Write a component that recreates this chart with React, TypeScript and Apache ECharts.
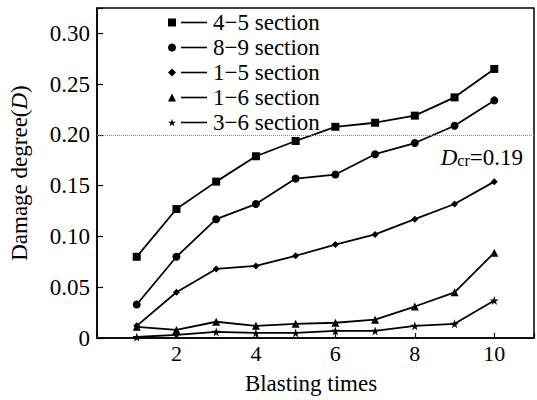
import React, { useEffect, useRef } from 'react';
import * as echarts from 'echarts';

const blastingTimes = [1, 2, 3, 4, 5, 6, 7, 8, 9, 10];
const sectionNames = ['4−5 section', '8−9 section', '1−5 section', '1−6 section', '3−6 section'];
const s45 = [0.080, 0.127, 0.154, 0.179, 0.194, 0.208, 0.212, 0.219, 0.237, 0.265];
const s89 = [0.033, 0.080, 0.117, 0.132, 0.157, 0.161, 0.181, 0.192, 0.209, 0.234];
const s15 = [0.012, 0.045, 0.068, 0.071, 0.081, 0.092, 0.102, 0.117, 0.132, 0.154];
const s16 = [0.011, 0.008, 0.016, 0.012, 0.014, 0.015, 0.018, 0.031, 0.045, 0.084];
const s36 = [0.001, 0.003, 0.006, 0.005, 0.005, 0.007, 0.007, 0.012, 0.014, 0.037];
const criticalLine = 0.195;
const criticalLabel = '0.19';

const STAR = 'path://M50,0 L61,35 L98,35 L68,57 L79,91 L50,70 L21,91 L32,57 L2,35 L39,35 Z';
const symbols = ['rect', 'circle', 'diamond', 'triangle', STAR];
const symbolSizes = [8, 8, 7, 8, 9];
const legendIcons = ['rect', 'circle', 'diamond', 'triangle', STAR];
const seriesValues = [s45, s89, s15, s16, s36];

const FONT = 'Liberation Serif';

export default function App() {
  const ref = useRef<HTMLDivElement>(null);
  useEffect(() => {
    if (!ref.current) return;
    const chart = echarts.init(ref.current, null, { renderer: 'svg' });
    const series: any[] = seriesValues.map((vals, i) => ({
      name: sectionNames[i],
      type: 'line',
      data: blastingTimes.map((x, j) => [x, vals[j]]),
      symbol: symbols[i],
      symbolSize: symbolSizes[i],
      lineStyle: { color: '#000', width: 1.8 },
      itemStyle: { color: '#000' },
      z: 3,
    }));
    series[0].markLine = {
      silent: true,
      symbol: 'none',
      lineStyle: { color: '#888', width: 1, type: 'dotted' },
      data: [{ yAxis: criticalLine }],
      label: {
        show: true,
        position: 'insideEndBottom',
        distance: [11, 12],
        formatter: () => '{i|D}{s|cr}{n|=' + criticalLabel + '}',
        rich: {
          i: { fontFamily: FONT, fontSize: 23, fontStyle: 'italic', color: '#000', lineHeight: 22 },
          s: { fontFamily: FONT, fontSize: 16, color: '#000', lineHeight: 10, verticalAlign: 'bottom' },
          n: { fontFamily: FONT, fontSize: 23, color: '#000', lineHeight: 22 },
        },
      },
    };
    chart.setOption({
      animation: false,
      textStyle: { fontFamily: FONT },
      grid: {
        left: 96,
        right: -6,
        top: 8,
        bottom: 60,
        show: true,
        borderColor: '#000',
        borderWidth: 1.5,
      },
      legend: {
        orient: 'vertical',
        left: 163,
        top: 6,
        itemWidth: 8,
        itemHeight: 8,
        itemGap: 2,
        selectedMode: false,
        data: sectionNames.map((n, i) => ({ name: n, icon: legendIcons[i], itemStyle: { color: '#000' } })),
        formatter: (name: string) => '{l| }{t|' + name + '}',
        textStyle: {
          fontFamily: FONT,
          fontSize: 23,
          color: '#000',
          lineHeight: 22,
          rich: {
            l: { width: 26, height: 1.6, backgroundColor: '#000' },
            t: { fontFamily: FONT, fontSize: 23, color: '#000', lineHeight: 22, padding: [0, 0, 0, 6] },
          },
        },
      },
      xAxis: {
        type: 'value',
        min: 0,
        max: 11,
        interval: 2,
        name: 'Blasting times',
        nameLocation: 'middle',
        nameGap: 34,
        nameTextStyle: { fontFamily: FONT, fontSize: 23, color: '#000', padding: [0, 9, 0, 0] },
        axisLine: { lineStyle: { color: '#000', width: 1.5 } },
        axisTick: { inside: true, length: 5, lineStyle: { color: '#000', width: 1.2 } },
        axisLabel: {
          fontFamily: FONT,
          fontSize: 22,
          color: '#000',
          margin: 4,
          formatter: (v: number) => (v === 0 || v > 10 ? '' : String(v)),
        },
        splitLine: { show: false },
      },
      yAxis: {
        type: 'value',
        min: 0,
        max: 0.325,
        interval: 0.05,
        name: '{n|Damage degree(}{i|D}{n|)}',
        nameLocation: 'middle',
        nameGap: 66,
        nameTextStyle: {
          fontFamily: FONT,
          rich: {
            n: { fontFamily: FONT, fontSize: 23, color: '#000' },
            i: { fontFamily: FONT, fontSize: 23, color: '#000', fontStyle: 'italic' },
          },
        },
        axisLine: { lineStyle: { color: '#000', width: 1.5 } },
        axisTick: { inside: true, length: 6, lineStyle: { color: '#000', width: 1.2 } },
        axisLabel: {
          fontFamily: FONT,
          fontSize: 23,
          color: '#000',
          margin: 7,
          formatter: (v: number) => (v === 0 ? '0' : v > 0.3001 ? '' : v.toFixed(2)),
        },
        splitLine: { show: false },
      },
      series,
    });
    return () => chart.dispose();
  }, []);
  return (
    <div style={{ position: 'absolute', left: 0, top: 0, width: 537, height: 400, overflow: 'hidden', background: '#fff' }}>
      <div ref={ref} style={{ width: 537, height: 400 }} />
    </div>
  );
}
